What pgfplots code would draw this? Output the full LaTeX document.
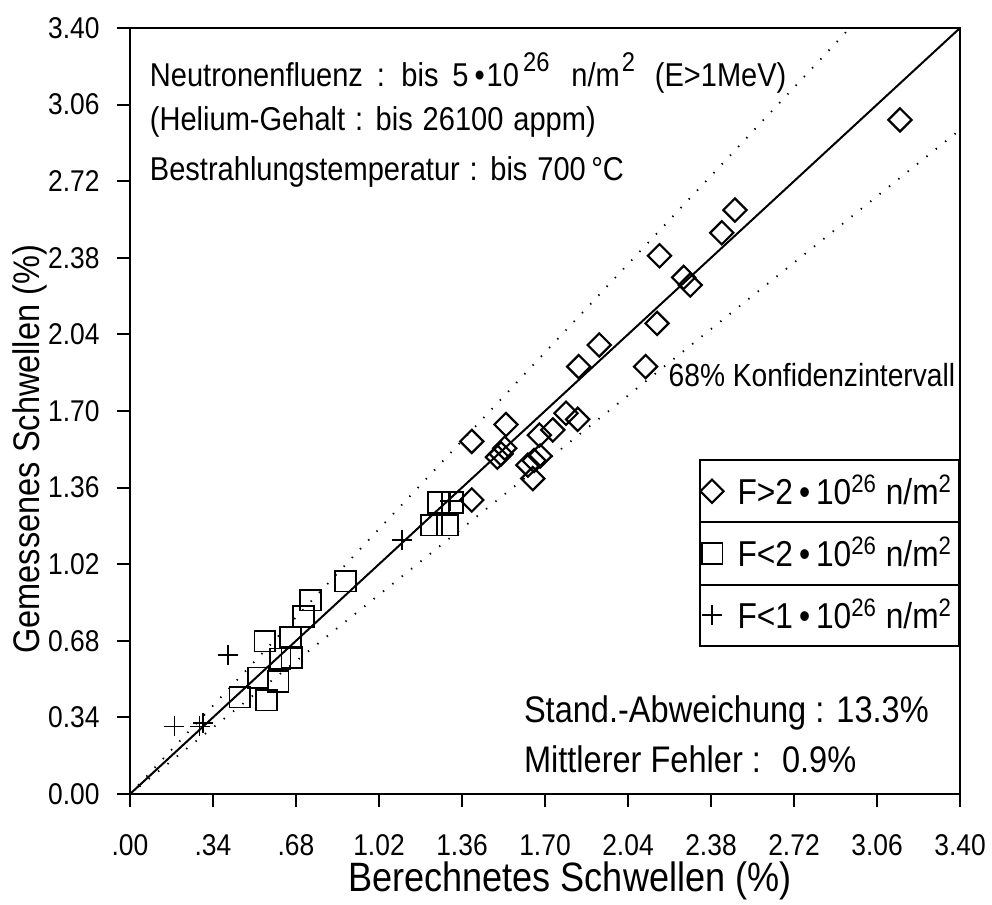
\documentclass[border=0pt]{standalone}
\usepackage{fontspec}
\setmainfont{Liberation Sans}[FakeStretch=0.88]
\usepackage{pgfplots}
\pgfplotsset{compat=1.18}
\usetikzlibrary{calc}
\newcommand{\supx}[1]{\raisebox{0.48em}{\fontsize{13.5}{14}\selectfont #1}}
\begin{document}
\begin{tikzpicture}
\begin{axis}[
  name=ax,
  scale only axis, width=415pt, height=383pt,
  xmin=0, xmax=3.4, ymin=0, ymax=3.4,
  clip=false,
  axis line style={line width=1pt},
  every tick/.style={line width=1pt, black},
  tick align=outside, tick pos=left,
  major tick length=6.5pt,
  xtick={0,0.34,0.68,1.02,1.36,1.70,2.04,2.38,2.72,3.06,3.40},
  ytick={0,0.34,0.68,1.02,1.36,1.70,2.04,2.38,2.72,3.06,3.40},
  xticklabels={.00,.34,.68,1.02,1.36,1.70,2.04,2.38,2.72,3.06,3.40},
  yticklabels={0.00,0.34,0.68,1.02,1.36,1.70,2.04,2.38,2.72,3.06,3.40},
  xticklabel style={font=\fontsize{15}{18}\selectfont, anchor=north, inner sep=0pt, yshift=-13.5pt},
  yticklabel style={font=\fontsize{15}{18}\selectfont, anchor=east, inner sep=0pt, xshift=-8.5pt},
  xlabel={Berechnetes Schwellen (\%)},
  ylabel={Gemessenes Schwellen (\%)},
  every axis x label/.style={at={(axis description cs:0.53,-0.114)}, anchor=center, inner sep=0pt, font=\fontsize{20.5}{24}\selectfont},
  every axis y label/.style={at={(axis description cs:-0.12,0.45)}, rotate=90, anchor=center, inner sep=0pt, font=\fontsize{18.5}{22}\selectfont},
  legend cell align=left,
  legend style={name=leg, at={(rel axis cs:1,0.437)}, anchor=north east, draw=black, line width=1pt,
    inner sep=0pt, row sep=0pt, column sep=0pt, font=\fontsize{18}{21}\selectfont,
    nodes={minimum height=31pt, inner xsep=3.5pt, inner ysep=0pt}},
]
% diagonal and 68% band
\addplot[black, line width=1pt, forget plot] coordinates {(0,0) (3.4,3.4)};
\addplot[black, line width=0.9pt, dash pattern=on 0.7pt off 5.3pt, forget plot] coordinates {(0,0) (2.949,3.4)};
\addplot[black, line width=0.9pt, dash pattern=on 0.7pt off 5.3pt, forget plot] coordinates {(0,0) (3.4,2.948)};
% F>2
\addplot[only marks, mark=square, mark size=4.1pt, mark options={rotate=45, line width=1.1pt, black}] coordinates {
(1.40,1.305) (1.40,1.565) (1.505,1.495) (1.52,1.51) (1.535,1.535) (1.54,1.64)
(1.63,1.46) (1.655,1.48) (1.68,1.50) (1.65,1.40) (1.677,1.593) (1.732,1.616)
(1.786,1.69) (1.834,1.663) (1.838,1.897) (1.922,1.993) (2.112,1.897) (2.159,2.089)
(2.169,2.389) (2.268,2.293) (2.295,2.259) (2.424,2.491) (2.478,2.592) (3.154,2.992)
};
\addlegendentry{\hspace{3.5pt}F>2\,•\,10\textsuperscript{26} n/m\textsuperscript{2}}
% F<2
\addplot[only marks, mark=square, mark size=5.2pt, mark options={line width=0.9pt, black}] coordinates {
(0.45,0.43) (0.56,0.417) (0.525,0.515) (0.607,0.50) (0.553,0.679) (0.615,0.60)
(0.663,0.605) (0.657,0.695) (0.71,0.789) (0.74,0.861) (0.883,0.945)
(1.236,1.194) (1.30,1.194) (1.264,1.293) (1.32,1.293)
};
\addlegendentry{\hspace{3.5pt}F<2\,•\,10\textsuperscript{26} n/m\textsuperscript{2}}
% F<1
\addplot[only marks, mark=+, mark size=5pt, mark options={line width=0.9pt, black}] coordinates {
(0.182,0.30) (0.285,0.30) (0.30,0.315) (0.40,0.617) (1.113,1.127) (1.31,1.30)
};
\addlegendentry{\hspace{3.5pt}F<1\,•\,10\textsuperscript{26} n/m\textsuperscript{2}}
% annotations
\node[anchor=west, inner sep=0pt, font=\fontsize{16.5}{20}\selectfont] at (axis cs:0.08,3.20) {\spaceskip=0.42em\relax Neutronenfluenz : bis 5\hspace{3pt}•\hspace{1pt}10\hspace{2pt}\supx{26}\hspace{4pt} n/m\hspace{1pt}\supx{2}\hspace{3pt} (E>1MeV)};
\node[anchor=west, inner sep=0pt, font=\fontsize{16.5}{20}\selectfont] at (axis cs:0.08,2.985) {\spaceskip=0.3em\relax (Helium-Gehalt : bis 26100 appm)};
\node[anchor=west, inner sep=0pt, font=\fontsize{16.5}{20}\selectfont] at (axis cs:0.08,2.76) {\spaceskip=0.3em\relax Bestrahlungstemperatur : bis 700\,°C};
\node[anchor=west, inner sep=0pt, font=\fontsize{16}{19}\selectfont] at (axis cs:2.205,1.86) {68\% Konfidenzintervall};
\node[anchor=west, font=\fontsize{18.5}{22}\selectfont] at (axis cs:1.585,0.36) {Stand.-Abweichung : 13.3\%};
\node[anchor=west, font=\fontsize{18.5}{22}\selectfont] at (axis cs:1.585,0.155) {Mittlerer Fehler : \ 0.9\%};
\end{axis}
\draw[line width=1pt] ($(leg.north west)!1/3!(leg.south west)$) -- ($(leg.north east)!1/3!(leg.south east)$);
\draw[line width=1pt] ($(leg.north west)!2/3!(leg.south west)$) -- ($(leg.north east)!2/3!(leg.south east)$);
\pgfresetboundingbox
\path ([shift={(-65pt,-55pt)}]ax.south west) rectangle ([shift={(16pt,14pt)}]ax.north east);
\end{tikzpicture}
\end{document}
